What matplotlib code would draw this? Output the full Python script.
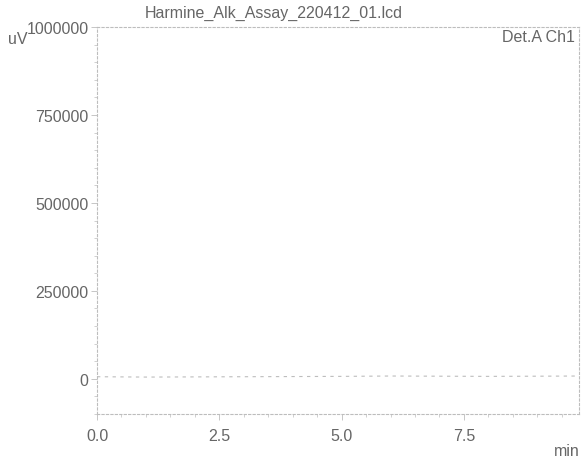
import numpy as np
import matplotlib.pyplot as plt
from matplotlib.ticker import MultipleLocator

plt.rcParams['font.family'] = ['Liberation Sans', 'DejaVu Sans']

# baseline trace (min, uV)
time_min = [0.0, 1.0, 2.0, 3.0, 4.0, 5.0, 6.0, 7.0, 8.0, 9.0, 9.85]
signal_uv = [6000, 5000, 5500, 6000, 6500, 7000, 8000, 7500, 7000, 7500, 8000]

y_ticks = [0, 250000, 500000, 750000, 1000000]
x_ticks = [0.0, 2.5, 5.0, 7.5]

title = 'Harmine_Alk_Assay_220412_01.lcd'
grey = '#666666'
light = '#bdbdbd'

fig = plt.figure(figsize=(5.83, 4.60), dpi=100)
ax = fig.add_axes([0.1664, 0.0978, 0.8266, 0.8412])

ax.plot(time_min, signal_uv, color=light, lw=0.8, ls=(0, (3, 4)))

ax.set_xlim(0, 9.85)
ax.set_ylim(-100000, 1000000)
ax.set_xticks(x_ticks)
ax.set_xticklabels(['%.1f' % t for t in x_ticks])
ax.set_yticks(y_ticks)
ax.set_yticklabels([str(v) for v in y_ticks])
ax.xaxis.set_minor_locator(MultipleLocator(0.5))
ax.yaxis.set_minor_locator(MultipleLocator(50000))

for s in ax.spines.values():
    s.set_color(light)
    s.set_linewidth(0.8)
    s.set_linestyle((0, (2, 2)))

ax.tick_params(axis='both', which='major', length=4, width=0.6, color=light,
               labelsize=11.5, labelcolor=grey, pad=2)
ax.tick_params(axis='both', which='minor', length=2, width=0.5, color=light)
ax.tick_params(axis='x', pad=6)

fig.text(145 / 583, 1 - 13 / 460, title, fontsize=11.5, color=grey,
         ha='left', va='center')
fig.text(575 / 583, 1 - 38 / 460, 'Det.A Ch1', fontsize=11.5, color=grey,
         ha='right', va='center')
fig.text(8 / 583, 1 - 40 / 460, 'uV', fontsize=11.5, color=grey,
         ha='left', va='center')
fig.text(580 / 583, 1 - 452 / 460, 'min', fontsize=11.5, color=grey,
         ha='right', va='center')

fig.savefig('out.png', dpi=100)
